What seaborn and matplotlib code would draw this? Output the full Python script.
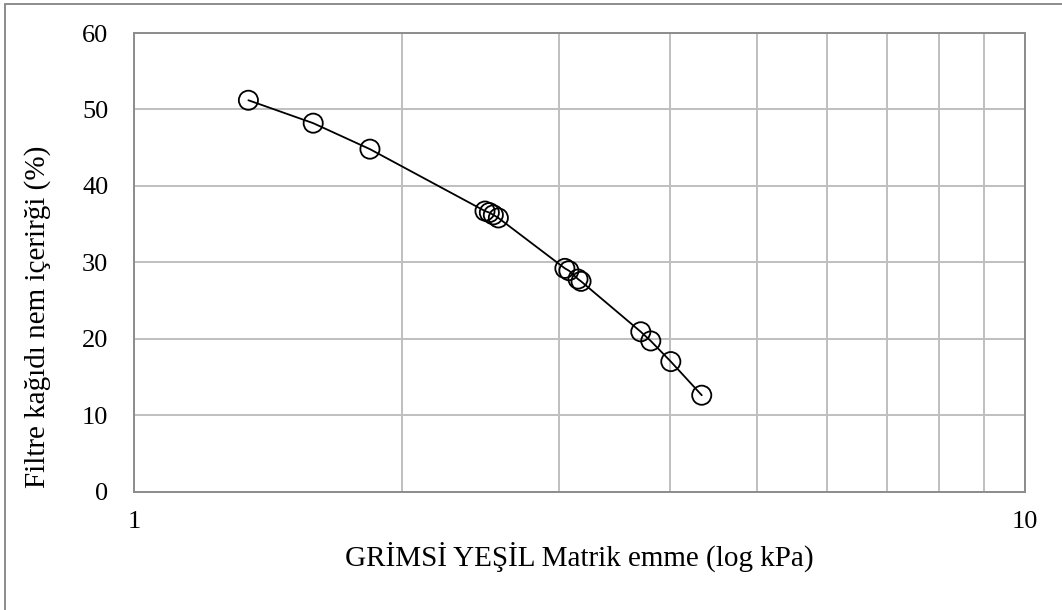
import matplotlib
matplotlib.use("Agg")
import matplotlib.pyplot as plt
from matplotlib.lines import Line2D
import seaborn as sns
import pandas as pd

# Matric suction (kPa) and filter paper water content (%)
suction_kpa = [1.344, 1.589, 1.840, 2.477, 2.505, 2.531, 2.564,
               3.045, 3.077, 3.150, 3.175, 3.705, 3.802, 4.004, 4.337]
water_content = [51.2, 48.2, 44.8, 36.7, 36.5, 36.2, 35.8,
                 29.2, 28.9, 27.8, 27.5, 20.9, 19.7, 17.0, 12.6]

y_ticks = [0, 10, 20, 30, 40, 50, 60]
x_major = [1, 10]
x_major_labels = ["1", "10"]
x_minor = [2, 3, 4, 5, 6, 7, 8, 9]

xlabel = "GRİMSİ YEŞİL Matrik emme (log kPa)"
ylabel = "Filtre kağıdı nem içerirği (%)"

df = pd.DataFrame({"suction": suction_kpa, "w": water_content})

sns.set_theme(style="white")
plt.rcParams["font.family"] = ["Liberation Serif", "DejaVu Serif"]

fig = plt.figure(figsize=(10.62, 6.10), dpi=100)
ax = fig.add_axes([134 / 1062, 1 - 491.5 / 610, 891 / 1062, 458.5 / 610])

sns.lineplot(data=df, x="suction", y="w", ax=ax, color="black",
             linewidth=1.3, sort=True, zorder=3)
sns.scatterplot(data=df, x="suction", y="w", ax=ax, s=190,
                facecolors="none", edgecolor="black", linewidth=1.3,
                zorder=4)

ax.set_xscale("log")
ax.set_xlim(1, 10)
ax.set_ylim(0, 60)
ax.set_yticks(y_ticks)
ax.set_xticks(x_major)
ax.set_xticklabels(x_major_labels)
ax.set_xticks(x_minor, minor=True)
ax.set_xticklabels([], minor=True)

grid_kw = dict(color="#bfbfbf", linewidth=1.4)
ax.grid(True, which="major", axis="both", **grid_kw)
ax.grid(True, which="minor", axis="x", **grid_kw)
ax.set_axisbelow(True)

for sp in ax.spines.values():
    sp.set_visible(True)
    sp.set_color("#8c8c8c")
    sp.set_linewidth(1.4)

ax.tick_params(axis="both", which="both", length=0, labelsize=19,
               colors="black")
ax.tick_params(axis="y", pad=18.5)
ax.tick_params(axis="x", pad=14)

ax.set_xlabel(xlabel, fontsize=21, color="black", labelpad=6)
ax.set_ylabel(ylabel, fontsize=21, color="black")
ax.yaxis.set_label_coords(-0.093, 0.38)

# outer chart border (left and top edges)
fig.add_artist(Line2D([4.5 / 1062, 4.5 / 1062], [0, 1 - 3.5 / 610],
                      transform=fig.transFigure, color="#8c8c8c", linewidth=1.4))
fig.add_artist(Line2D([4.5 / 1062, 1], [1 - 3.5 / 610, 1 - 3.5 / 610],
                      transform=fig.transFigure, color="#8c8c8c", linewidth=1.4))

fig.savefig("out.png", dpi=100, facecolor="white")
